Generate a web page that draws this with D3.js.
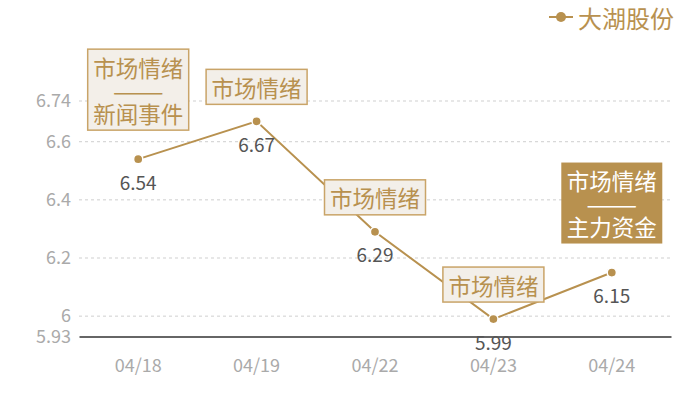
<!DOCTYPE html>
<html>
<head>
<meta charset="utf-8">
<script src="https://cdn.jsdelivr.net/npm/d3@7/dist/d3.min.js"></script>
<style>
html,body{margin:0;padding:0;background:#fff;}
svg{display:block;}
text{font-family:"Noto Sans CJK SC","Noto Sans",sans-serif;}
</style>
</head>
<body>
<svg id="chart" width="700" height="400"></svg>
<script>
const categories = ["04/18","04/19","04/22","04/23","04/24"];
const values = [6.54, 6.67, 6.29, 5.99, 6.15];
const seriesName = "大湖股份";
const yTicks = [5.93, 6, 6.2, 6.4, 6.6, 6.74];
const yDomain = [5.93, 6.74];
const annotationLines = [
  ["市场情绪","——","新闻事件"],
  ["市场情绪"],
  ["市场情绪"],
  ["市场情绪"],
  ["市场情绪","——","主力资金"]
];
const annotationFilled = [false,false,false,false,true];

const gold = "#b8914f";
const svg = d3.select("#chart");
const margin = {left:79, right:29, top:101, bottom:63.5};
const W = 700, H = 400;

const x = d3.scaleBand().domain(categories).range([margin.left, W - margin.right]);
const y = d3.scaleLinear().domain(yDomain).range([H - margin.bottom, margin.top]);
const cx = d => x(d) + x.bandwidth()/2;

// grid lines
svg.append("g").selectAll("line").data(yTicks.filter(t => t !== yDomain[0])).join("line")
  .attr("x1", margin.left).attr("x2", W - margin.right)
  .attr("y1", d => y(d)).attr("y2", d => y(d))
  .attr("stroke", "#cfcfcf").attr("stroke-dasharray", "3,3").attr("stroke-width", 1);

// y axis labels
const yAxis = d3.axisLeft(y).tickValues(yTicks).tickSize(0).tickPadding(8).tickFormat(d => String(d));
const gy = svg.append("g").attr("transform", `translate(${margin.left},0)`).call(yAxis);
gy.select(".domain").remove();
gy.selectAll("text").attr("fill", "#aaa").attr("font-size", 18).attr("font-family", '"Noto Sans CJK SC",sans-serif');

// x axis
const xAxis = d3.axisBottom(x).tickSize(0).tickPadding(23);
const gx = svg.append("g").attr("transform", `translate(0,${y(yDomain[0])})`).call(xAxis);
gx.select(".domain").attr("stroke", "#333").attr("stroke-width", 1.5);
gx.selectAll("text").attr("fill", "#aaa").attr("font-size", 18).attr("font-family", '"Noto Sans CJK SC",sans-serif');

// line
const data = categories.map((c,i) => ({c, v: values[i], i}));
svg.append("path").datum(data)
  .attr("fill","none").attr("stroke", gold).attr("stroke-width", 2)
  .attr("d", d3.line().x(d => cx(d.c)).y(d => y(d.v)));

// annotations
const fontSize = 22.5, lineH = 23, boxW = 101;
data.forEach(d => {
  const lines = annotationLines[d.i];
  const filled = annotationFilled[d.i];
  const boxH = lines.length === 1 ? 35 : 81;
  const gap = lines.length === 1 ? 17 : 29;
  const bx = cx(d.c) - boxW/2;
  const by = y(d.v) - gap - boxH;
  const g = svg.append("g");
  g.append("rect").attr("x", bx).attr("y", by).attr("width", boxW).attr("height", boxH)
    .attr("fill", filled ? gold : "#f3efe9")
    .attr("stroke", filled ? gold : "#c9a468").attr("stroke-width", filled ? 0 : 1.5);
  const startY = by + boxH/2 - (lines.length-1)*lineH/2;
  lines.forEach((t, k) => {
    const tx = g.append("text").attr("x", cx(d.c)).attr("y", startY + k*lineH)
      .attr("text-anchor","middle").attr("dominant-baseline","central")
      .attr("font-size", fontSize).attr("fill", filled ? "#fff" : gold)
      .text(t);
    if (t === "——") tx.attr("textLength", 51).attr("lengthAdjust", "spacingAndGlyphs");
  });
});

// points
svg.append("g").selectAll("circle").data(data).join("circle")
  .attr("cx", d => cx(d.c)).attr("cy", d => y(d.v)).attr("r", 4.6)
  .attr("fill", gold).attr("stroke", "#fff").attr("stroke-width", 1.5);

// value labels
svg.append("g").selectAll("text").data(data).join("text")
  .attr("x", d => cx(d.c)).attr("y", d => y(d.v) + 22)
  .attr("text-anchor","middle").attr("dominant-baseline","central")
  .attr("font-size", 19).attr("fill", "#555")
  .text(d => d.v);

// legend
const lg = svg.append("g");
const lx = 561, ly = 17;
lg.append("line").attr("x1", lx-12).attr("x2", lx+12).attr("y1", ly).attr("y2", ly)
  .attr("stroke", gold).attr("stroke-width", 2);
lg.append("circle").attr("cx", lx).attr("cy", ly).attr("r", 5).attr("fill", gold);
lg.append("text").attr("x", 578).attr("y", ly).attr("dominant-baseline","central")
  .attr("font-size", 24).attr("fill", gold).text(seriesName);
</script>
</body>
</html>
